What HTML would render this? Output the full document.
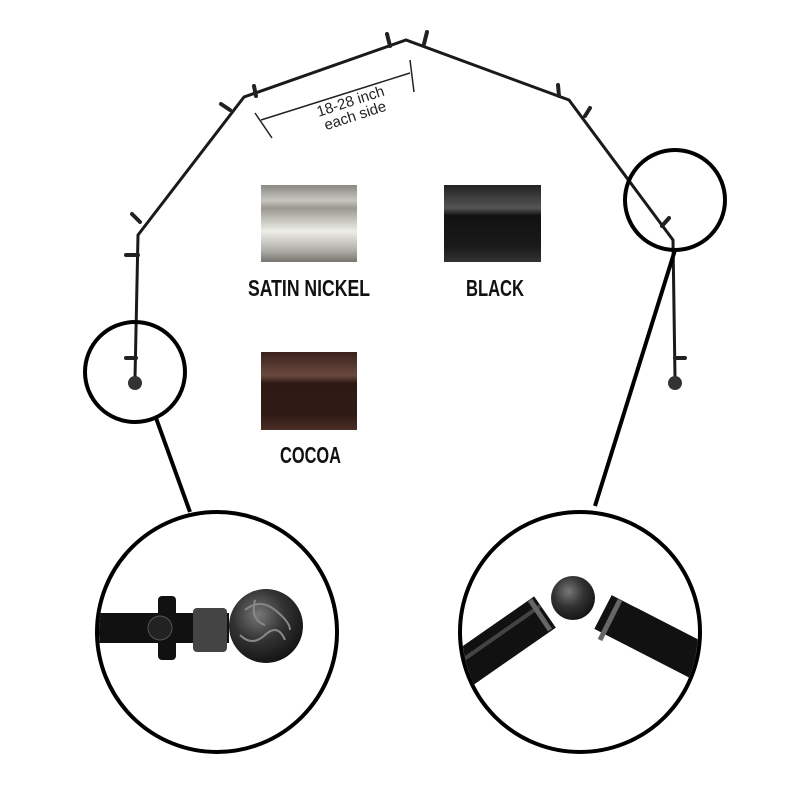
<!DOCTYPE html>
<html><head><style>
body{margin:0;background:#fff}
svg{display:block}
.l{font-family:"Liberation Sans",sans-serif;font-weight:bold;font-size:23px;fill:#111}
</style></head><body>
<svg width="800" height="800" viewBox="0 0 800 800">
<defs>
<linearGradient id="ni" x1="0" y1="0" x2="0" y2="1">
<stop offset="0" stop-color="#8a8882"/><stop offset=".2" stop-color="#c8c6bf"/><stop offset=".3" stop-color="#9a9890"/><stop offset=".6" stop-color="#eeeee8"/><stop offset=".85" stop-color="#b0aea8"/><stop offset="1" stop-color="#77756f"/></linearGradient>
<linearGradient id="bk" x1="0" y1="0" x2="0" y2="1">
<stop offset="0" stop-color="#222"/><stop offset=".3" stop-color="#555"/><stop offset=".4" stop-color="#111"/><stop offset=".8" stop-color="#1a1a1a"/><stop offset="1" stop-color="#333"/></linearGradient>
<linearGradient id="co" x1="0" y1="0" x2="0" y2="1">
<stop offset="0" stop-color="#3a221c"/><stop offset=".3" stop-color="#6a4a40"/><stop offset=".4" stop-color="#2e1915"/><stop offset=".8" stop-color="#301a16"/><stop offset="1" stop-color="#4a2e26"/></linearGradient>
<radialGradient id="ball" cx=".4" cy=".35" r=".7"><stop offset="0" stop-color="#777"/><stop offset=".5" stop-color="#333"/><stop offset="1" stop-color="#111"/></radialGradient>
<clipPath id="cr"><circle cx="580" cy="632" r="118"/></clipPath>
<clipPath id="cl"><circle cx="217" cy="632" r="118"/></clipPath>
</defs>
<polyline points="135,378 138,235 244,97 406,40 569,100 673,240 675,378" fill="none" stroke="#1a1a1a" stroke-width="3"/>
<g stroke="#222" stroke-width="4" stroke-linecap="round">
<line x1="126" y1="255" x2="138" y2="255"/><line x1="126" y1="358" x2="136" y2="358"/>
<line x1="132" y1="214" x2="140" y2="222"/><line x1="221" y1="104" x2="230" y2="110"/>
<line x1="254" y1="86" x2="256" y2="96"/><line x1="387" y1="34" x2="390" y2="46"/>
<line x1="427" y1="32" x2="424" y2="44"/><line x1="558" y1="85" x2="559" y2="96"/>
<line x1="590" y1="108" x2="585" y2="116"/><line x1="669" y1="218" x2="662" y2="226"/>
<line x1="675" y1="358" x2="685" y2="358"/>
</g>
<circle cx="135" cy="383" r="7" fill="#333"/><circle cx="675" cy="383" r="7" fill="#333"/>
<g stroke="#222" stroke-width="1.5">
<line x1="261" y1="120" x2="410" y2="73"/><line x1="255" y1="113" x2="272" y2="138"/><line x1="410" y1="60" x2="414" y2="92"/></g>
<text transform="translate(352,106) rotate(-18)" font-family="Liberation Sans,sans-serif" font-size="15" text-anchor="middle" fill="#222"><tspan x="0" y="0">18-28 inch</tspan><tspan x="0" y="15">each side</tspan></text>
<rect x="261" y="185" width="96" height="77" fill="url(#ni)"/>
<rect x="444" y="185" width="97" height="77" fill="url(#bk)"/>
<rect x="261" y="352" width="96" height="78" fill="url(#co)"/>
<text class="l" x="248" y="296" textLength="122" lengthAdjust="spacingAndGlyphs">SATIN NICKEL</text>
<text class="l" x="466" y="296" textLength="58" lengthAdjust="spacingAndGlyphs">BLACK</text>
<text class="l" x="280" y="463" textLength="61" lengthAdjust="spacingAndGlyphs">COCOA</text>
<g fill="none" stroke="#000" stroke-width="4">
<circle cx="135" cy="372" r="50"/><circle cx="675" cy="200" r="50"/>
<line x1="156" y1="418" x2="190" y2="512"/><line x1="675" y1="250" x2="595" y2="506"/>
</g>
<g clip-path="url(#cl)">
<rect x="95" y="613" width="134" height="30" fill="#111"/>
<rect x="158" y="596" width="18" height="64" rx="4" fill="#111"/>
<circle cx="160" cy="628" r="12" fill="#222" stroke="#555"/>
<rect x="193" y="608" width="34" height="44" rx="4" fill="#444"/>
<circle cx="266" cy="626" r="37" fill="url(#ball)"/>
<g fill="none" stroke="#888" stroke-width="2"><path d="M245,610 q15,-12 30,0 t15,20"/><path d="M240,635 q12,12 25,0 t20,5"/><path d="M255,600 q-5,20 10,25"/></g>
</g>
<g clip-path="url(#cr)">
<line x1="440" y1="685" x2="545" y2="612" stroke="#111" stroke-width="38"/>
<line x1="603" y1="612" x2="720" y2="672" stroke="#111" stroke-width="38"/>
<line x1="460" y1="662" x2="540" y2="606" stroke="#444" stroke-width="4"/>
<circle cx="573" cy="598" r="22" fill="url(#ball)"/>
<g fill="none" stroke="#666" stroke-width="5"><line x1="530" y1="600" x2="550" y2="630"/><line x1="620" y1="600" x2="600" y2="640"/></g>
</g>
<g fill="none" stroke="#000" stroke-width="4">
<circle cx="217" cy="632" r="120"/><circle cx="580" cy="632" r="120"/>
</g>
</svg>
</body></html>
